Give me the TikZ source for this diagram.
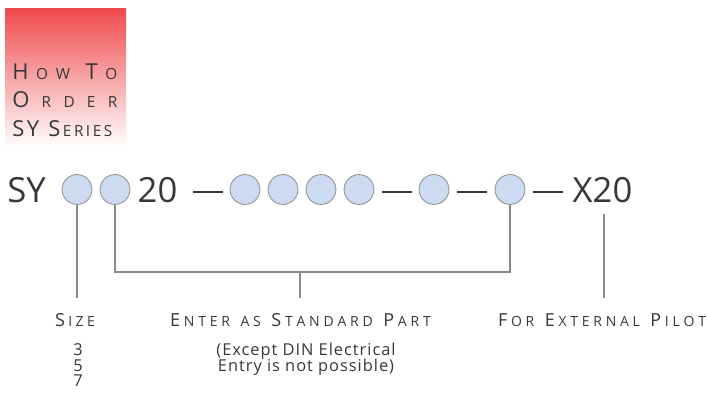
\documentclass[tikz,border=0pt]{standalone}
\usepackage{fontspec}
\setmainfont{Open Sans}
\newfontfamily\lsp[LetterSpace=6]{Open Sans}
\definecolor{txt}{HTML}{383838}
\definecolor{dotfill}{HTML}{CCDBF1}
\definecolor{dotline}{HTML}{8C8C8C}
\definecolor{connc}{HTML}{8A8A8A}
\definecolor{headred}{HTML}{EF4B4D}
\newcommand{\bigT}[1]{{\fontsize{16.5}{16.5}\selectfont #1}}
\newcommand{\smT}[1]{{\fontsize{11.5}{11.5}\selectfont #1}}
\newcommand{\bigL}[1]{{\fontsize{13.5}{13.5}\selectfont #1}}
\newcommand{\smL}[1]{{\fontsize{10.5}{10.5}\selectfont #1}}
\newcommand{\wg}{\hspace{5pt}\hfill}
\begin{document}
\begin{tikzpicture}[x=0.75pt,y=-0.75pt,
  dot/.style={circle,draw=dotline,fill=dotfill,line width=0.6pt,minimum size=22.4pt,inner sep=0pt},
  big/.style={font=\fontsize{26}{26}\selectfont,text=txt,inner sep=0pt,anchor=base},
  dashline/.style={draw=txt,line width=1.7pt},
  conn/.style={draw=connc,line width=0.8pt},
  head/.style={text=txt,inner sep=0pt,anchor=base west},
  lab/.style={text=txt,inner sep=0pt,anchor=base},
  small/.style={text=txt,inner sep=0pt,anchor=base,font=\lsp\fontsize{12.3}{14}\selectfont}]
\useasboundingbox (0,0) rectangle (707,395);
% heading box
\shade[top color=headred,bottom color=white,middle color=headred!50!white] (5,9) rectangle (126,147);
\node[head] (h1) at (12,80) {\makebox[78.8pt][l]{\bigT{H}\hfill\smT{O}\hfill\smT{W}\hfill\hfill\bigT{T}\hfill\smT{O}}};
\node[head] (h2) at (12,108) {\makebox[78.8pt][l]{\bigT{O}\hfill\smT{R}\hfill\smT{D}\hfill\smT{E}\hfill\smT{R}}};
\node[head] (h3) at (12,137) {\makebox[75pt][l]{\bigT{S}\hfill\bigT{Y}\hspace{5pt}\hfill\bigT{S}\hfill\smT{E}\hfill\smT{R}\hfill\smT{I}\hfill\smT{E}\hfill\smT{S}}};
% main code row
\node[big] (sy) at (26.5,203) {SY};
\node[dot] (c1) at (77,189.5) {};
\node[dot] (c2) at (115,189.5) {};
\node[big] (t20) at (157.5,203) {20};
\coordinate (d1a) at (193,192); \coordinate (d1b) at (223,192);
\draw[dashline] (d1a) -- (d1b);
\node[dot] (c3) at (245,189.5) {};
\node[dot] (c4) at (283,189.5) {};
\node[dot] (c5) at (321,189.5) {};
\node[dot] (c6) at (359,189.5) {};
\coordinate (d2a) at (382,192); \coordinate (d2b) at (412,192);
\draw[dashline] (d2a) -- (d2b);
\node[dot] (c7) at (434,189.5) {};
\coordinate (d3a) at (457,192); \coordinate (d3b) at (487,192);
\draw[dashline] (d3a) -- (d3b);
\node[dot] (c8) at (510,189.5) {};
\coordinate (d4a) at (533,192); \coordinate (d4b) at (563,192);
\draw[dashline] (d4a) -- (d4b);
\node[big] (x20) at (602.5,203) {X20};
% connectors
\coordinate (s1) at (77,298);
\coordinate (b1) at (115,272);
\coordinate (b2) at (510,272);
\coordinate (m1) at (300,272);
\coordinate (m2) at (300,298);
\coordinate (x1) at (604,214);
\coordinate (x2) at (604,298);
\draw[conn] (c1.south) -- (s1);
\draw[conn] (c2.south) -- (b1) -- (b2) -- (c8.south);
\draw[conn] (m1) -- (m2);
\draw[conn] (x1) -- (x2);
% labels
\node[lab] (lsize) at (75,327) {\makebox[30pt][l]{\bigL{S}\hfill\smL{I}\hfill\smL{Z}\hfill\smL{E}}};
\node[lab] (lenter) at (300.5,327) {\makebox[195.5pt][l]{\bigL{E}\hfill\smL{N}\hfill\smL{T}\hfill\smL{E}\hfill\smL{R}\wg\smL{A}\hfill\smL{S}\wg\bigL{S}\hfill\smL{T}\hfill\smL{A}\hfill\smL{N}\hfill\smL{D}\hfill\smL{A}\hfill\smL{R}\hfill\smL{D}\wg\bigL{P}\hfill\smL{A}\hfill\smL{R}\hfill\smL{T}}};
\node[lab] (lfor) at (602,327) {\makebox[156pt][l]{\bigL{F}\hfill\smL{O}\hfill\smL{R}\wg\bigL{E}\hfill\smL{X}\hfill\smL{T}\hfill\smL{E}\hfill\smL{R}\hfill\smL{N}\hfill\smL{A}\hfill\smL{L}\wg\bigL{P}\hfill\smL{I}\hfill\smL{L}\hfill\smL{O}\hfill\smL{T}}};
\node[small] (n3) at (78,355) {3};
\node[small] (n5) at (78,371) {5};
\node[small] (n7) at (78,387) {7};
\node[small] (e1) at (306,355) {(Except DIN Electrical};
\node[small] (e2) at (306,371) {Entry is not possible)};
\end{tikzpicture}
\end{document}
